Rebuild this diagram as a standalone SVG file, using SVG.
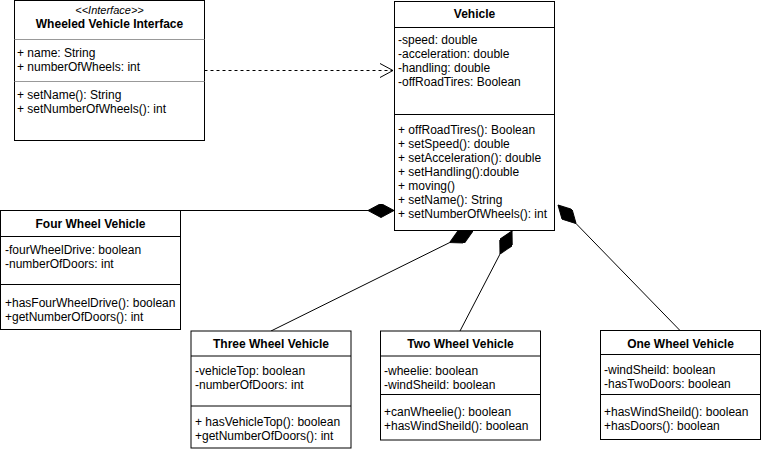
<svg xmlns="http://www.w3.org/2000/svg" width="761" height="452" viewBox="0 0 761 452">
<defs>
<style>
text{font-family:"Liberation Sans",Arial,sans-serif;font-size:12px;fill:#000}
.h{font-weight:bold;text-anchor:middle}
.st{font-style:italic;font-size:11px;text-anchor:middle}
.box{fill:#fff;stroke:#000;stroke-width:1}
.sep{stroke:#000;stroke-width:1}
.gsep{stroke:#999;stroke-width:1}
.conn{fill:none;stroke:#000;stroke-width:1}
.dash{stroke-dasharray:3 3}
</style>
<marker id="diamond" markerUnits="userSpaceOnUse" viewBox="0 0 26 14" refX="26" refY="7" markerWidth="26" markerHeight="14" orient="auto">
<path d="M0,7 L13,0 L26,7 L13,14 Z" fill="#000" stroke="#000" stroke-width="1"/>
</marker>
<marker id="open" markerUnits="userSpaceOnUse" viewBox="0 0 14 16" refX="13" refY="8" markerWidth="14" markerHeight="16" orient="auto">
<path d="M0,1 L13,8 L0,15" fill="none" stroke="#000" stroke-width="1"/>
</marker>
</defs>
<rect width="761" height="452" fill="#fff"/>
<g id="connectors">
<path class="conn dash" d="M204.5,70.5 L393,70.5" marker-end="url(#open)"/>
<path class="conn" d="M181,210.5 L394,210.5" marker-end="url(#diamond)"/>
<path class="conn" d="M271,331 L473,231" marker-end="url(#diamond)"/>
<path class="conn" d="M460,331 L512,231" marker-end="url(#diamond)"/>
<path class="conn" d="M680,330.5 L558,205" marker-end="url(#diamond)"/>
</g>
<g id="interface">
<rect class="box" x="14.5" y="0.5" width="190" height="140"/>
<line class="gsep" x1="14.5" y1="39.5" x2="204.5" y2="39.5"/>
<line class="gsep" x1="14.5" y1="81.5" x2="204.5" y2="81.5"/>
<text class="st" x="109.5" y="14">&lt;&lt;Interface&gt;&gt;</text>
<text class="h" x="109.5" y="28">Wheeled Vehicle Interface</text>
<text x="17" y="57">+ name: String</text>
<text x="17" y="71">+ numberOfWheels: int</text>
<text x="17" y="99">+ setName(): String</text>
<text x="17" y="113">+ setNumberOfWheels(): int</text>
</g>
<g id="vehicle">
<rect class="box" x="394.5" y="1.5" width="160" height="229"/>
<line class="sep" x1="394.5" y1="27.5" x2="554.5" y2="27.5"/>
<line class="sep" x1="394.5" y1="114.5" x2="554.5" y2="114.5"/>
<text class="h" x="474.5" y="18">Vehicle</text>
<text x="398" y="44">-speed: double</text>
<text x="398" y="58">-acceleration: double</text>
<text x="398" y="72">-handling: double</text>
<text x="398" y="86">-offRoadTires: Boolean</text>
<text x="398" y="134">+ offRoadTires(): Boolean</text>
<text x="398" y="148">+ setSpeed(): double</text>
<text x="398" y="162">+ setAcceleration(): double</text>
<text x="398" y="176">+ setHandling():double</text>
<text x="398" y="190">+ moving()</text>
<text x="398" y="204">+ setName(): String</text>
<text x="398" y="218">+ setNumberOfWheels(): int</text>
</g>
<g id="four-wheel">
<rect class="box" x="0.5" y="210.5" width="180" height="119"/>
<line class="sep" x1="0.5" y1="236.5" x2="180.5" y2="236.5"/>
<line class="sep" x1="0.5" y1="284.5" x2="180.5" y2="284.5"/>
<text class="h" x="90.5" y="228">Four Wheel Vehicle</text>
<text x="5" y="254">-fourWheelDrive: boolean</text>
<text x="5" y="268">-numberOfDoors: int</text>
<text x="5" y="307">+hasFourWheelDrive(): boolean</text>
<text x="5" y="321">+getNumberOfDoors(): int</text>
</g>
<g id="three-wheel">
<rect class="box" x="191" y="331" width="160" height="117"/>
<line class="sep" x1="191" y1="356" x2="351" y2="356"/>
<line class="sep" x1="191" y1="406" x2="351" y2="406"/>
<text class="h" x="271" y="348">Three Wheel Vehicle</text>
<text x="195" y="375">-vehicleTop: boolean</text>
<text x="195" y="389">-numberOfDoors: int</text>
<text x="195" y="426">+ hasVehicleTop(): boolean</text>
<text x="195" y="440">+getNumberOfDoors(): int</text>
</g>
<g id="two-wheel">
<rect class="box" x="380.5" y="331" width="160" height="109"/>
<line class="sep" x1="380.5" y1="356" x2="540.5" y2="356"/>
<line class="sep" x1="380.5" y1="394.5" x2="540.5" y2="394.5"/>
<text class="h" x="460.5" y="348">Two Wheel Vehicle</text>
<text x="384" y="375">-wheelie: boolean</text>
<text x="384" y="389">-windSheild: boolean</text>
<text x="384" y="416">+canWheelie(): boolean</text>
<text x="384" y="430">+hasWindSheild(): boolean</text>
</g>
<g id="one-wheel">
<rect class="box" x="600.5" y="330.5" width="160" height="109"/>
<line class="sep" x1="600.5" y1="354.5" x2="760.5" y2="354.5"/>
<line class="sep" x1="600.5" y1="394.5" x2="760.5" y2="394.5"/>
<text class="h" x="680.5" y="348">One Wheel Vehicle</text>
<text x="604" y="374">-windSheild: boolean</text>
<text x="604" y="388">-hasTwoDoors: boolean</text>
<text x="604" y="416">+hasWindSheild(): boolean</text>
<text x="604" y="430">+hasDoors(): boolean</text>
</g>
</svg>
